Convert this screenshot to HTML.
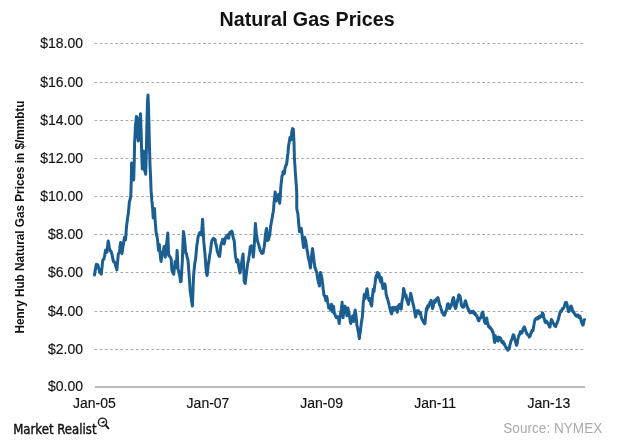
<!DOCTYPE html>
<html><head><meta charset="utf-8"><title>Natural Gas Prices</title>
<style>
html,body{margin:0;padding:0;background:#fff;}
body{width:620px;height:442px;overflow:hidden;position:relative;}
svg{position:absolute;left:0;top:0;}
text{font-family:"Liberation Sans",Arial,sans-serif;}
.g{stroke:#a8a8a8;stroke-width:1;stroke-dasharray:2.7 2.47;}
.yl{font-size:14px;fill:#111;stroke:#111;stroke-width:0.15px;text-anchor:end;}
.xl{font-size:14px;fill:#111;stroke:#111;stroke-width:0.15px;text-anchor:middle;}
.t{font-size:20px;font-weight:bold;fill:#111;}
.at{font-size:12.4px;font-weight:bold;fill:#111;}
.src{font-size:14px;fill:#aaa;}
.mr{font-family:"DejaVu Sans Condensed","DejaVu Sans",sans-serif;font-size:13.8px;fill:#111;stroke:#111;stroke-width:0.4px;}
</style></head>
<body>
<svg width="620" height="442" viewBox="0 0 620 442">
<text x="219.6" y="25.8" class="t" textLength="175" lengthAdjust="spacingAndGlyphs">Natural Gas Prices</text>
<text class="at" transform="translate(24.3 333.6) rotate(-90)" textLength="233" lengthAdjust="spacingAndGlyphs">Henry Hub Natural Gas Prices in $/mmbtu</text>
<line x1="94.55" y1="349.50" x2="583.8" y2="349.50" class="g"/><line x1="94.55" y1="311.50" x2="583.8" y2="311.50" class="g"/><line x1="94.55" y1="272.50" x2="583.8" y2="272.50" class="g"/><line x1="94.55" y1="234.50" x2="583.8" y2="234.50" class="g"/><line x1="94.55" y1="196.50" x2="583.8" y2="196.50" class="g"/><line x1="94.55" y1="158.50" x2="583.8" y2="158.50" class="g"/><line x1="94.55" y1="120.50" x2="583.8" y2="120.50" class="g"/><line x1="94.55" y1="82.50" x2="583.8" y2="82.50" class="g"/><line x1="94.55" y1="43.50" x2="583.8" y2="43.50" class="g"/>
<line x1="94.8" y1="387" x2="585" y2="387" stroke="#bcbcbc" stroke-width="2"/>
<text x="83" y="391.30" class="yl">$0.00</text><text x="83" y="353.80" class="yl">$2.00</text><text x="83" y="315.80" class="yl">$4.00</text><text x="83" y="276.80" class="yl">$6.00</text><text x="83" y="238.80" class="yl">$8.00</text><text x="83" y="200.80" class="yl">$10.00</text><text x="83" y="162.80" class="yl">$12.00</text><text x="83" y="124.80" class="yl">$14.00</text><text x="83" y="86.80" class="yl">$16.00</text><text x="83" y="47.80" class="yl">$18.00</text>
<text x="94.4" y="407.8" class="xl">Jan-05</text><text x="208.0" y="407.8" class="xl">Jan-07</text><text x="321.6" y="407.8" class="xl">Jan-09</text><text x="435.2" y="407.8" class="xl">Jan-11</text><text x="548.8" y="407.8" class="xl">Jan-13</text>
<path d="M94.50 275.00 L94.88 272.49 L95.26 269.98 L95.64 268.82 L96.02 265.50 L96.40 264.20 L96.85 264.75 L97.30 264.88 L97.75 264.74 L98.20 266.10 L98.63 268.18 L99.07 269.31 L99.50 272.30 L99.95 272.64 L100.40 272.39 L100.85 272.91 L101.30 274.20 L101.73 269.68 L102.17 266.12 L102.60 261.10 L103.00 259.75 L103.40 259.35 L103.80 259.30 L104.18 257.67 L104.56 256.44 L104.94 253.81 L105.32 251.57 L105.70 249.90 L106.10 251.69 L106.50 250.66 L106.90 252.40 L107.33 249.32 L107.77 244.38 L108.20 241.00 L108.60 242.86 L109.00 245.37 L109.40 248.70 L109.83 249.15 L110.27 251.00 L110.70 251.20 L111.10 251.39 L111.50 253.03 L111.90 253.70 L112.33 256.44 L112.77 258.38 L113.20 261.10 L113.65 261.82 L114.10 261.48 L114.55 262.09 L115.00 263.60 L115.38 264.27 L115.76 266.48 L116.14 267.24 L116.52 268.27 L116.90 269.90 L117.33 265.07 L117.77 259.81 L118.20 254.90 L118.60 253.27 L119.00 253.02 L119.40 251.20 L119.80 248.70 L120.20 244.89 L120.60 242.50 L121.03 246.38 L121.47 250.02 L121.90 253.70 L122.28 251.95 L122.66 249.16 L123.04 245.78 L123.42 244.66 L123.80 241.20 L124.25 238.34 L124.70 237.00 L125.10 238.34 L125.50 240.00 L125.90 235.45 L126.30 229.17 L126.70 224.80 L127.17 221.61 L127.63 217.55 L128.10 215.30 L128.53 211.10 L128.97 206.76 L129.40 201.70 L129.75 200.50 L130.10 199.75 L130.45 197.28 L130.80 196.30 L131.30 180.00 L131.60 163.00 L131.95 169.39 L132.30 175.00 L132.65 170.19 L133.00 165.00 L133.35 172.66 L133.70 180.00 L134.00 169.91 L134.30 160.00 L134.60 143.00 L135.05 134.68 L135.50 125.00 L135.95 121.59 L136.40 116.40 L137.00 118.00 L137.60 135.00 L137.95 137.95 L138.30 141.00 L138.65 134.83 L139.00 128.00 L139.40 122.12 L139.80 118.00 L140.15 116.30 L140.50 113.80 L141.10 130.00 L141.60 150.00 L141.95 159.79 L142.30 169.00 L142.65 165.49 L143.00 160.00 L143.50 151.00 L143.90 158.64 L144.30 165.00 L144.65 168.07 L145.00 172.00 L145.35 172.92 L145.70 174.30 L146.05 162.49 L146.40 150.00 L147.00 120.00 L147.60 100.00 L148.00 95.00 L148.60 110.00 L148.95 124.05 L149.30 140.00 L149.65 152.42 L150.00 165.00 L150.50 175.00 L151.10 190.90 L151.45 194.99 L151.80 200.40 L152.15 202.98 L152.50 207.10 L152.85 211.67 L153.20 218.00 L153.63 215.37 L154.07 210.93 L154.50 208.50 L154.85 214.75 L155.20 222.00 L155.55 225.83 L155.90 230.10 L156.25 233.29 L156.60 235.00 L157.10 236.81 L157.60 240.30 L158.05 245.25 L158.50 250.40 L158.90 247.55 L159.30 244.50 L159.73 249.49 L160.15 253.59 L160.57 257.90 L161.00 261.40 L161.43 258.63 L161.85 256.58 L162.27 254.14 L162.70 252.10 L163.12 251.39 L163.55 250.07 L163.97 246.98 L164.40 246.20 L164.85 251.05 L165.30 257.20 L165.70 252.41 L166.10 248.70 L166.53 244.24 L166.95 240.82 L167.38 237.10 L167.80 233.00 L168.20 243.78 L168.60 255.50 L169.03 254.93 L169.45 256.19 L169.88 256.51 L170.30 257.20 L170.75 258.18 L171.20 258.90 L171.60 265.76 L172.00 270.80 L172.43 272.03 L172.85 272.53 L173.27 273.59 L173.70 274.20 L174.05 271.35 L174.40 266.91 L174.75 265.40 L175.10 261.40 L175.50 263.96 L175.90 266.15 L176.30 267.40 L176.70 259.50 L177.10 250.40 L177.55 259.53 L178.00 269.10 L178.43 270.57 L178.85 271.66 L179.27 274.39 L179.70 275.80 L180.10 277.92 L180.50 281.80 L181.10 281.30 L181.50 274.00 L181.90 267.85 L182.30 262.00 L182.67 251.16 L183.03 241.35 L183.40 231.50 L183.77 233.24 L184.13 235.77 L184.50 239.40 L184.90 243.24 L185.30 247.67 L185.70 253.00 L186.07 253.46 L186.43 253.52 L186.80 255.20 L187.17 257.48 L187.53 258.49 L187.90 259.80 L188.27 263.60 L188.63 268.30 L189.00 273.30 L189.40 279.03 L189.80 285.09 L190.20 291.40 L190.57 292.91 L190.93 296.63 L191.30 298.20 L191.67 301.79 L192.03 303.33 L192.40 306.00 L192.80 295.83 L193.20 284.91 L193.60 275.60 L193.97 271.04 L194.33 267.75 L194.70 264.30 L195.07 261.56 L195.43 260.42 L195.80 257.50 L196.20 252.29 L196.60 247.48 L197.00 243.90 L197.37 242.54 L197.73 239.42 L198.10 237.10 L198.46 235.49 L198.82 235.39 L199.18 233.45 L199.54 233.56 L199.90 232.60 L200.30 234.13 L200.70 234.48 L201.10 234.72 L201.50 234.90 L201.87 229.19 L202.23 224.17 L202.60 219.20 L203.00 226.03 L203.40 234.74 L203.80 241.70 L204.17 245.53 L204.53 249.79 L204.90 253.00 L205.27 257.93 L205.63 262.98 L206.00 268.80 L206.37 271.69 L206.73 274.30 L207.10 275.60 L207.50 272.54 L207.90 268.68 L208.30 264.30 L208.67 262.67 L209.03 260.25 L209.40 257.50 L209.77 254.69 L210.13 253.00 L210.50 250.70 L210.90 247.41 L211.30 243.76 L211.70 241.70 L212.06 240.08 L212.42 239.90 L212.78 239.18 L213.14 239.37 L213.50 238.30 L213.90 239.49 L214.30 238.74 L214.70 240.00 L215.10 239.40 L215.47 242.28 L215.83 244.11 L216.20 245.10 L216.57 247.10 L216.93 249.07 L217.30 251.90 L217.70 252.45 L218.10 253.49 L218.50 255.20 L218.87 255.01 L219.23 256.25 L219.60 256.40 L219.97 253.80 L220.33 250.28 L220.70 246.20 L221.10 244.66 L221.50 243.51 L221.90 241.70 L222.27 241.53 L222.63 239.34 L223.00 239.40 L223.37 241.22 L223.73 243.22 L224.10 243.90 L224.47 242.60 L224.83 240.67 L225.20 238.30 L225.60 237.86 L226.00 236.86 L226.40 237.10 L226.77 236.94 L227.13 235.30 L227.50 234.90 L227.87 236.63 L228.23 238.11 L228.60 238.30 L229.00 236.19 L229.40 234.30 L229.80 232.60 L230.17 233.49 L230.53 233.05 L230.90 232.60 L231.27 231.57 L231.63 231.12 L232.00 231.50 L232.40 232.67 L232.80 236.04 L233.20 237.10 L233.57 239.25 L233.93 239.46 L234.30 241.70 L234.67 246.85 L235.03 251.66 L235.40 255.20 L235.80 257.78 L236.20 259.43 L236.60 262.00 L236.97 261.36 L237.33 259.80 L237.70 259.80 L238.07 261.10 L238.43 265.28 L238.80 266.60 L239.20 269.00 L239.60 270.85 L240.00 272.90 L240.37 271.20 L240.73 267.63 L241.10 265.20 L241.50 263.70 L241.90 261.37 L242.30 257.90 L242.70 255.74 L243.10 254.00 L243.47 262.75 L243.83 271.81 L244.20 281.50 L244.70 282.67 L245.20 283.50 L245.70 278.97 L246.20 275.40 L246.70 271.14 L247.20 267.20 L247.70 263.41 L248.20 261.10 L248.57 259.89 L248.93 256.74 L249.30 255.00 L249.80 250.82 L250.30 246.80 L250.80 246.47 L251.30 245.80 L251.80 248.16 L252.30 248.90 L252.80 252.79 L253.30 257.00 L253.80 251.74 L254.30 244.80 L254.67 237.70 L255.03 230.66 L255.40 223.50 L255.90 229.10 L256.40 234.60 L256.90 236.69 L257.40 240.70 L257.90 242.13 L258.40 243.80 L258.90 245.22 L259.40 247.90 L259.77 247.91 L260.13 250.50 L260.50 250.90 L261.00 251.29 L261.50 253.00 L261.90 252.95 L262.30 253.45 L262.70 253.11 L263.10 253.00 L263.57 249.92 L264.03 247.57 L264.50 244.80 L265.00 239.31 L265.50 233.60 L265.87 232.47 L266.23 229.41 L266.60 228.50 L267.10 234.72 L267.60 240.70 L268.10 239.70 L268.60 239.70 L269.10 237.20 L269.60 235.60 L270.10 231.59 L270.60 226.50 L270.97 224.48 L271.33 222.56 L271.70 220.40 L272.20 217.87 L272.70 214.30 L273.20 212.02 L273.70 208.10 L274.00 203.20 L274.40 199.32 L274.80 195.89 L275.20 191.90 L275.57 194.94 L275.93 197.99 L276.30 201.00 L276.67 199.85 L277.03 197.84 L277.40 196.40 L277.80 195.73 L278.20 194.89 L278.60 194.20 L278.97 198.08 L279.33 200.60 L279.70 203.20 L280.07 198.69 L280.43 193.55 L280.80 187.40 L281.20 183.15 L281.60 179.99 L282.00 176.10 L282.37 175.49 L282.73 173.78 L283.10 171.60 L283.47 171.61 L283.83 172.31 L284.20 173.80 L284.60 171.42 L285.00 168.41 L285.40 167.00 L285.77 165.75 L286.13 164.68 L286.50 164.80 L286.87 162.11 L287.23 159.30 L287.60 155.70 L288.00 152.73 L288.40 147.48 L288.80 144.40 L289.17 142.57 L289.53 140.19 L289.90 137.60 L290.27 137.65 L290.63 139.90 L291.00 139.90 L291.35 137.44 L291.70 133.10 L292.15 130.29 L292.60 128.60 L292.95 129.71 L293.30 129.00 L293.65 135.35 L294.00 142.10 L294.40 158.00 L294.77 163.24 L295.13 169.51 L295.50 173.80 L295.90 180.50 L296.30 185.19 L296.70 191.90 L296.80 209.00 L297.17 210.40 L297.53 212.10 L297.90 213.60 L298.25 217.78 L298.60 222.60 L299.05 226.54 L299.50 231.70 L299.86 230.66 L300.22 230.78 L300.58 228.70 L300.94 229.09 L301.30 228.30 L301.67 231.58 L302.03 234.14 L302.40 238.50 L302.80 241.16 L303.20 244.75 L303.60 247.50 L303.97 244.12 L304.33 239.83 L304.70 237.30 L305.07 239.40 L305.43 240.14 L305.80 240.70 L306.20 244.68 L306.60 245.98 L307.00 249.80 L307.37 251.60 L307.73 253.41 L308.10 256.60 L308.47 258.66 L308.83 259.14 L309.20 261.10 L309.60 262.63 L310.00 265.48 L310.40 267.90 L310.77 264.96 L311.13 261.00 L311.50 256.60 L311.87 253.45 L312.23 250.57 L312.60 248.60 L313.00 252.84 L313.40 255.54 L313.80 258.80 L314.17 262.23 L314.53 264.05 L314.90 267.90 L315.27 267.75 L315.63 269.74 L316.00 270.10 L316.37 271.48 L316.73 272.31 L317.10 274.70 L317.50 277.81 L317.90 279.44 L318.30 281.40 L318.67 283.54 L319.03 283.63 L319.40 286.00 L319.77 282.18 L320.13 276.07 L320.50 272.40 L320.90 274.63 L321.30 275.31 L321.70 276.90 L322.07 279.28 L322.43 282.41 L322.80 285.00 L323.17 289.19 L323.53 291.20 L323.90 295.00 L324.30 295.03 L324.70 296.59 L325.10 297.30 L325.45 298.33 L325.80 300.40 L326.25 297.67 L326.70 296.50 L327.20 298.72 L327.70 302.30 L328.20 304.30 L328.70 308.10 L329.15 306.55 L329.60 306.20 L330.10 307.72 L330.60 310.00 L331.05 306.71 L331.50 304.20 L332.00 308.57 L332.50 311.90 L333.00 308.63 L333.50 306.20 L333.95 310.00 L334.40 313.80 L334.90 314.16 L335.40 315.80 L335.85 316.44 L336.30 317.70 L336.70 316.74 L337.10 317.20 L337.50 316.73 L337.90 318.17 L338.30 317.70 L338.75 320.70 L339.20 323.50 L339.70 319.03 L340.20 315.80 L340.70 312.85 L341.20 310.00 L341.65 307.02 L342.10 302.30 L342.60 309.21 L343.10 317.70 L343.55 313.54 L344.00 308.10 L344.50 307.01 L345.00 306.20 L345.50 308.09 L346.00 310.00 L346.45 313.57 L346.90 315.80 L347.40 311.74 L347.90 308.10 L348.35 310.01 L348.80 311.90 L349.30 315.18 L349.80 317.70 L350.30 321.56 L350.80 323.50 L351.25 321.24 L351.70 319.60 L352.20 318.36 L352.70 315.80 L353.20 319.06 L353.70 321.50 L354.15 317.92 L354.60 313.80 L355.20 310.00 L355.70 313.66 L356.20 317.70 L356.55 321.25 L356.90 325.40 L357.30 326.44 L357.70 328.53 L358.10 331.20 L358.53 332.81 L358.97 336.62 L359.40 338.60 L359.90 334.41 L360.40 331.20 L360.85 326.68 L361.30 323.50 L361.80 319.77 L362.30 317.70 L362.80 310.68 L363.30 302.30 L363.75 299.19 L364.20 294.60 L364.70 296.89 L365.20 298.50 L365.70 295.16 L366.20 292.70 L366.65 290.23 L367.10 288.80 L367.60 292.24 L368.10 296.50 L368.55 298.37 L369.00 300.40 L369.50 298.77 L370.00 298.50 L370.40 301.34 L370.80 304.40 L371.20 304.73 L371.60 306.00 L372.00 302.17 L372.40 296.50 L372.80 293.85 L373.20 289.30 L373.60 290.59 L374.00 291.70 L374.40 288.04 L374.80 285.40 L375.15 283.13 L375.50 279.00 L375.90 277.02 L376.30 275.80 L376.70 274.76 L377.10 274.30 L377.50 272.50 L377.90 272.70 L378.30 274.81 L378.70 277.40 L379.20 274.30 L379.50 276.60 L379.80 279.00 L380.30 280.61 L380.80 282.20 L381.40 277.40 L381.80 280.00 L382.20 283.80 L382.60 286.16 L383.00 288.50 L383.40 285.96 L383.80 285.40 L384.20 284.13 L384.60 283.80 L385.00 284.53 L385.40 286.90 L385.80 290.70 L386.20 294.90 L386.60 295.53 L387.00 298.00 L387.35 297.84 L387.70 299.60 L388.10 300.81 L388.50 302.80 L388.90 303.87 L389.30 306.00 L389.70 307.72 L390.10 309.10 L390.50 310.76 L390.90 312.30 L391.30 313.60 L391.70 313.90 L392.10 311.02 L392.50 307.50 L392.90 309.53 L393.30 310.70 L393.70 309.86 L394.10 307.50 L394.50 308.08 L394.90 309.10 L395.30 307.95 L395.70 307.50 L396.10 309.27 L396.50 309.10 L396.90 310.00 L397.30 312.30 L397.65 309.60 L398.00 306.00 L398.40 307.04 L398.80 307.50 L399.20 305.04 L399.60 304.40 L400.00 306.62 L400.40 307.50 L400.80 309.08 L401.20 309.10 L401.60 305.40 L402.00 301.20 L402.40 299.32 L402.80 296.50 L403.20 293.12 L403.60 288.50 L404.00 289.38 L404.40 291.70 L404.80 294.15 L405.20 296.50 L405.60 295.71 L406.00 294.90 L406.40 297.92 L406.80 299.60 L407.20 301.01 L407.60 301.20 L408.00 303.45 L408.40 304.40 L408.75 302.17 L409.10 299.60 L409.50 299.59 L409.90 298.00 L410.30 296.02 L410.70 293.30 L411.10 295.29 L411.50 296.50 L411.90 298.31 L412.30 301.20 L412.70 301.86 L413.10 304.40 L413.50 305.22 L413.90 307.50 L414.30 309.62 L414.70 312.30 L415.10 313.91 L415.50 317.10 L415.90 316.17 L416.30 313.90 L416.70 312.42 L417.10 310.70 L417.50 311.76 L417.90 312.30 L418.30 311.75 L418.70 310.70 L419.05 312.66 L419.40 313.90 L419.80 313.08 L420.20 312.30 L420.60 312.91 L421.00 315.50 L421.40 317.65 L421.80 318.60 L422.20 319.90 L422.60 320.20 L423.00 321.01 L423.40 321.80 L423.80 322.67 L424.20 323.40 L424.60 323.72 L425.00 323.40 L425.35 318.48 L425.70 315.30 L426.05 312.37 L426.40 308.50 L426.70 308.70 L427.00 309.90 L427.35 307.00 L427.70 305.80 L428.05 305.98 L428.40 307.10 L428.75 306.21 L429.10 304.40 L429.70 303.10 L430.05 302.16 L430.40 302.40 L430.75 301.88 L431.10 300.40 L431.45 302.70 L431.80 303.10 L432.15 305.79 L432.50 308.50 L432.80 307.57 L433.10 307.10 L433.45 305.06 L433.80 303.10 L434.15 302.12 L434.50 300.40 L434.85 301.93 L435.20 302.40 L435.55 301.63 L435.90 300.40 L436.20 299.99 L436.50 299.00 L436.85 298.50 L437.20 299.70 L437.55 297.94 L437.90 297.60 L438.25 298.51 L438.60 300.40 L439.20 303.10 L439.55 304.94 L439.90 305.80 L440.25 306.06 L440.60 307.10 L440.95 308.64 L441.30 309.90 L441.65 310.27 L442.00 312.60 L442.30 311.72 L442.60 312.60 L442.95 312.79 L443.30 313.90 L443.65 314.94 L444.00 315.30 L444.35 315.33 L444.70 314.60 L445.05 313.95 L445.40 312.60 L445.70 311.48 L446.00 311.20 L446.35 309.88 L446.70 308.50 L447.05 306.38 L447.40 304.40 L447.75 303.98 L448.10 303.70 L448.70 304.40 L449.05 305.69 L449.40 308.50 L449.75 308.59 L450.10 307.10 L450.45 305.85 L450.80 305.80 L451.15 306.06 L451.50 304.40 L451.80 304.62 L452.10 303.10 L452.45 300.09 L452.80 299.00 L453.15 298.22 L453.50 297.60 L453.85 299.64 L454.20 300.40 L454.55 304.69 L454.90 307.10 L455.20 307.70 L455.50 308.50 L455.85 307.34 L456.20 307.10 L456.55 304.52 L456.90 303.10 L457.25 302.64 L457.60 300.40 L458.20 297.60 L458.55 295.67 L458.90 294.90 L459.25 295.41 L459.60 295.60 L459.95 295.88 L460.30 297.60 L460.65 299.70 L461.00 301.70 L461.30 304.66 L461.60 305.80 L461.95 305.72 L462.30 307.10 L462.65 307.09 L463.00 305.80 L463.35 306.47 L463.70 307.10 L464.00 306.52 L464.30 304.40 L464.65 303.46 L465.00 301.70 L465.35 300.81 L465.70 301.00 L466.05 303.15 L466.40 303.70 L466.75 304.72 L467.10 305.80 L467.70 308.50 L468.05 308.25 L468.40 309.90 L468.75 309.56 L469.10 311.20 L469.45 311.88 L469.80 312.60 L470.15 312.15 L470.50 311.90 L470.80 311.85 L471.10 312.60 L471.45 311.53 L471.80 311.90 L472.15 311.94 L472.50 312.60 L472.85 311.53 L473.20 311.20 L473.50 312.58 L473.80 312.60 L474.15 312.25 L474.50 313.90 L474.85 314.05 L475.20 313.20 L475.55 314.93 L475.90 315.30 L476.25 314.89 L476.60 316.00 L477.20 316.60 L477.55 318.50 L477.90 318.70 L478.25 320.13 L478.60 320.70 L478.95 320.80 L479.30 319.30 L479.65 318.23 L480.00 318.00 L480.35 317.79 L480.70 318.10 L481.05 316.54 L481.40 315.40 L481.70 315.00 L482.00 312.60 L482.35 312.48 L482.70 312.00 L483.05 313.42 L483.40 315.40 L483.75 317.26 L484.10 319.40 L484.70 322.10 L485.05 322.35 L485.40 323.50 L485.75 321.25 L486.10 320.80 L486.45 318.65 L486.80 318.10 L487.15 320.77 L487.50 322.10 L487.80 323.07 L488.10 324.90 L488.45 326.42 L488.80 326.20 L489.15 326.40 L489.50 327.60 L489.85 327.13 L490.20 327.60 L490.55 328.27 L490.90 328.90 L491.20 328.63 L491.50 329.60 L491.85 329.70 L492.20 330.30 L492.55 331.86 L492.90 331.60 L493.25 333.72 L493.60 334.30 L494.00 338.40 L494.35 341.07 L494.70 342.50 L495.00 339.36 L495.30 335.70 L495.65 337.88 L496.00 338.40 L496.35 338.63 L496.70 337.10 L497.05 338.55 L497.40 339.80 L497.70 340.89 L498.00 341.10 L498.35 338.20 L498.70 337.10 L499.05 338.91 L499.40 339.80 L499.75 338.65 L500.10 337.70 L500.45 338.56 L500.80 338.40 L501.40 341.10 L501.75 342.09 L502.10 342.50 L502.45 341.72 L502.80 341.80 L503.15 341.60 L503.50 343.20 L503.85 344.35 L504.20 343.80 L504.50 343.75 L504.80 345.20 L505.15 345.84 L505.50 346.60 L505.85 346.94 L506.20 347.90 L506.55 347.85 L506.90 348.60 L507.20 349.43 L507.50 349.30 L507.85 350.30 L508.20 349.40 L508.55 348.87 L508.90 349.30 L509.25 348.26 L509.60 346.60 L509.95 344.80 L510.30 343.80 L510.90 341.10 L511.25 340.56 L511.60 339.80 L511.95 338.89 L512.30 338.40 L512.65 336.38 L513.00 335.70 L513.30 334.67 L513.60 335.00 L513.95 335.47 L514.30 337.10 L514.65 339.26 L515.00 339.80 L515.35 341.14 L515.70 342.50 L516.05 343.29 L516.40 345.20 L516.70 345.31 L517.00 343.80 L517.35 342.79 L517.70 339.80 L518.05 338.35 L518.40 337.10 L518.75 335.68 L519.10 335.70 L519.45 334.38 L519.80 334.30 L520.10 332.13 L520.40 331.60 L520.75 331.63 L521.10 332.30 L521.45 331.83 L521.80 333.00 L522.15 331.78 L522.50 331.60 L522.80 329.77 L523.10 328.90 L523.45 328.39 L523.80 327.60 L524.15 328.02 L524.50 326.90 L524.85 328.40 L525.20 328.90 L525.55 330.08 L525.90 331.60 L526.20 332.13 L526.50 333.00 L526.85 333.70 L527.20 334.30 L527.55 334.40 L527.90 335.00 L528.25 335.03 L528.60 335.70 L528.95 335.52 L529.30 337.10 L529.60 335.96 L529.90 335.70 L530.25 335.94 L530.60 334.30 L530.95 332.90 L531.30 333.00 L531.65 331.66 L532.00 330.30 L532.30 330.91 L532.60 331.00 L532.95 330.68 L533.30 328.90 L533.65 326.33 L534.00 324.90 L534.35 322.39 L534.70 320.80 L535.05 319.60 L535.40 319.40 L535.90 318.60 L536.40 318.20 L536.70 318.44 L537.00 318.90 L537.35 319.16 L537.70 317.60 L538.05 318.60 L538.40 318.20 L538.75 318.30 L539.10 316.90 L539.40 316.29 L539.70 317.60 L540.05 315.96 L540.40 316.20 L540.75 316.62 L541.10 316.20 L541.45 316.34 L541.80 314.90 L542.15 313.80 L542.50 312.80 L542.80 313.67 L543.10 314.20 L543.45 314.90 L543.80 317.60 L544.15 318.38 L544.50 319.60 L544.85 321.45 L545.20 321.60 L545.55 322.60 L545.90 322.30 L546.20 322.36 L546.50 321.00 L546.85 322.59 L547.20 322.30 L547.55 322.50 L547.90 323.70 L548.25 323.57 L548.60 325.00 L548.90 325.01 L549.20 326.40 L549.55 326.79 L549.90 327.10 L550.25 325.41 L550.60 323.00 L550.95 322.18 L551.30 319.60 L551.65 320.39 L552.00 320.30 L552.30 321.24 L552.60 321.60 L552.95 322.83 L553.30 323.00 L553.65 323.56 L554.00 324.30 L554.35 325.10 L554.70 325.70 L555.05 325.13 L555.40 326.40 L555.70 326.61 L556.00 325.70 L556.35 324.17 L556.70 323.70 L557.05 323.49 L557.40 321.60 L557.75 321.24 L558.10 320.30 L558.40 318.86 L558.70 318.20 L559.05 316.11 L559.40 315.50 L559.75 313.30 L560.10 312.10 L560.45 311.72 L560.80 310.80 L561.15 311.55 L561.50 311.50 L561.80 310.02 L562.10 310.10 L562.45 308.54 L562.80 308.70 L563.15 308.45 L563.50 308.10 L563.85 307.57 L564.20 306.70 L564.55 305.48 L564.90 304.70 L565.20 303.10 L565.50 302.60 L565.85 303.15 L566.20 303.30 L566.55 302.67 L566.90 304.00 L567.25 305.30 L567.60 307.40 L567.90 308.67 L568.20 310.10 L568.55 311.72 L568.90 311.50 L569.25 310.74 L569.60 309.40 L569.95 309.17 L570.30 307.40 L570.65 306.65 L571.00 306.00 L571.30 306.17 L571.60 307.40 L571.95 307.89 L572.30 309.40 L572.65 311.37 L573.00 311.50 L573.35 312.21 L573.70 312.10 L574.30 313.50 L574.65 313.81 L575.00 314.90 L575.35 314.24 L575.70 315.50 L576.05 315.85 L576.40 316.20 L576.75 316.20 L577.10 315.50 L577.40 315.04 L577.70 314.90 L578.05 315.06 L578.40 316.20 L578.75 317.23 L579.10 317.60 L579.45 317.75 L579.80 316.20 L580.15 316.65 L580.50 318.20 L580.80 318.67 L581.10 321.00 L581.45 321.68 L581.80 323.00 L582.15 323.49 L582.50 324.30 L582.85 325.02 L583.20 325.00 L583.80 321.60 L584.15 320.00 L584.50 319.60" fill="none" stroke="#1b5f92" stroke-width="3.0" stroke-linejoin="round" stroke-linecap="round"/>
<text x="13.2" y="434.4" class="mr" textLength="83.3" lengthAdjust="spacingAndGlyphs">Market Realist</text>
<g fill="none" stroke="#1c1c1c" stroke-width="1.4">
<circle cx="102.5" cy="422.2" r="4.1"/>
<line x1="105.5" y1="425" x2="108.4" y2="428.3" stroke-width="2" stroke-linecap="round"/>
</g>
<path d="M100.4 422.9 L104.5 420.4 L104.5 423.2 Z" fill="#1c1c1c"/>
<text x="503.3" y="432.7" class="src" textLength="99" lengthAdjust="spacingAndGlyphs">Source: NYMEX</text>
</svg>
</body></html>
